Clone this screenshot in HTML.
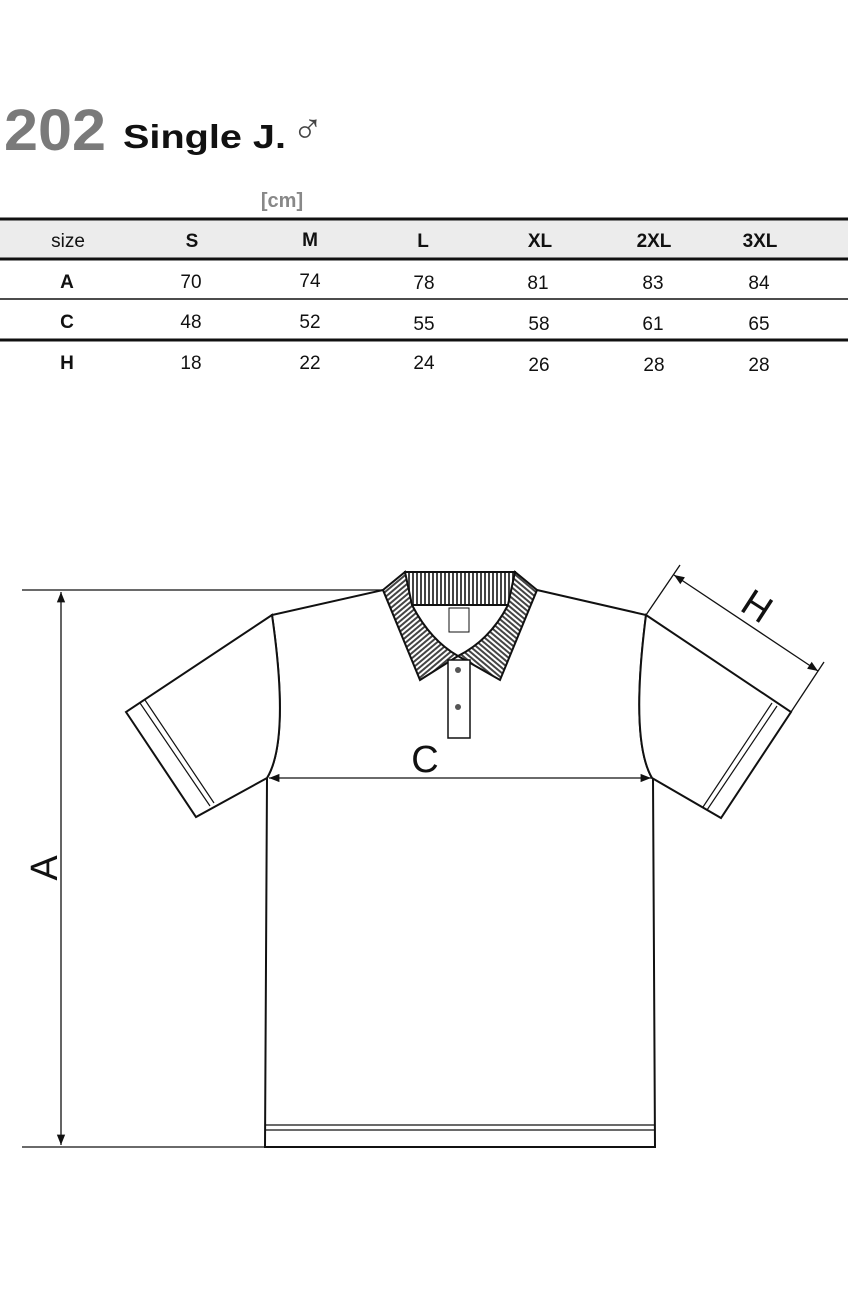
<!DOCTYPE html>
<html><head><meta charset="utf-8"><style>
html,body{margin:0;padding:0;background:#fff;}
body{width:855px;height:1290px;position:relative;overflow:hidden;font-family:"Liberation Sans",sans-serif;}
</style></head><body>
<svg width="855" height="1290" viewBox="0 0 855 1290" xmlns="http://www.w3.org/2000/svg" style="position:absolute;left:0;top:0">
<defs>
<pattern id="vs" width="4" height="4" patternUnits="userSpaceOnUse"><rect width="4" height="4" fill="#fff"/><rect width="2" height="4" fill="#444"/></pattern>
<pattern id="ds" width="4" height="4" patternUnits="userSpaceOnUse" patternTransform="rotate(-40)"><rect width="4" height="4" fill="#fff"/><rect width="4" height="2" fill="#444"/></pattern>
<pattern id="ds2" width="4" height="4" patternUnits="userSpaceOnUse" patternTransform="rotate(40)"><rect width="4" height="4" fill="#fff"/><rect width="4" height="2" fill="#444"/></pattern>
<marker id="ar" viewBox="0 0 10 10" refX="10" refY="5" markerWidth="8" markerHeight="8" orient="auto-start-reverse"><path d="M0,1 L10,5 L0,9 z" fill="#111"/></marker>
</defs>
<text x="4" y="150" font-size="58" font-weight="bold" fill="#7a7a7a" textLength="102" lengthAdjust="spacingAndGlyphs">202</text>
<text x="123" y="148" font-size="33" font-weight="bold" fill="#111" textLength="163" lengthAdjust="spacingAndGlyphs">Single J.</text>
<text x="292" y="143" font-size="42" fill="#444">♂</text>
<text x="282" y="207" font-size="20" font-weight="bold" fill="#888" text-anchor="middle">[cm]</text>
<rect x="0" y="220" width="848" height="38" fill="#ececec"/>
<line x1="0" y1="219" x2="848" y2="219" stroke="#111" stroke-width="3"/>
<line x1="0" y1="259" x2="848" y2="259" stroke="#111" stroke-width="3"/>
<line x1="0" y1="299" x2="848" y2="299" stroke="#111" stroke-width="1.5"/>
<line x1="0" y1="340" x2="848" y2="340" stroke="#111" stroke-width="3"/>
<g font-size="19" fill="#111" text-anchor="middle">
<text x="68" y="247">size</text>
<g font-weight="bold"><text x="192" y="247">S</text><text x="310" y="246">M</text><text x="423" y="247">L</text><text x="540" y="247">XL</text><text x="654" y="247">2XL</text><text x="760" y="247">3XL</text>
<text x="67" y="288">A</text><text x="67" y="328">C</text><text x="67" y="369">H</text></g>
<text x="191" y="288">70</text><text x="310" y="287">74</text><text x="424" y="289">78</text><text x="538" y="289">81</text><text x="653" y="289">83</text><text x="759" y="289">84</text>
<text x="191" y="328">48</text><text x="310" y="328">52</text><text x="424" y="330">55</text><text x="539" y="330">58</text><text x="653" y="330">61</text><text x="759" y="330">65</text>
<text x="191" y="369">18</text><text x="310" y="369">22</text><text x="424" y="369">24</text><text x="539" y="371">26</text><text x="654" y="371">28</text><text x="759" y="371">28</text>
</g>
<g stroke="#111" fill="none" stroke-width="2">
<path d="M267,778 L265,1147 L655,1147 L653,778" fill="#fff"/>
<line x1="265" y1="1125" x2="655" y2="1125" stroke-width="1.2"/>
<line x1="265" y1="1130" x2="655" y2="1130" stroke-width="1.2"/>
<path d="M383,590 L272,615 Q290,740 267,778 M537,590 L646,615 Q630,740 652,778"/>
<path d="M272,615 L126,712 L196,817 L267,778 Q290,740 272,615 Z" fill="#fff"/>
<line x1="140" y1="703" x2="210" y2="806" stroke-width="1.2"/>
<line x1="145" y1="700" x2="214" y2="803" stroke-width="1.2"/>
<path d="M646,615 L791,712 L721,818 L652,778 Q630,740 646,615 Z" fill="#fff"/>
<line x1="777" y1="706" x2="707" y2="810" stroke-width="1.2"/>
<line x1="772" y1="703" x2="703" y2="807" stroke-width="1.2"/>
<path d="M405,572 L515,572 L515,605 L405,605 Z" fill="url(#vs)"/>
<path d="M383,590 L405,572 L412,605 Q430,640 458,656 L420,680 Z" fill="url(#ds)"/>
<path d="M537,590 L515,572 L508,605 Q490,640 458,656 L500,680 Z" fill="url(#ds2)"/>
<rect x="448" y="660" width="22" height="78" fill="#fff" stroke-width="1.5"/>
<rect x="449" y="608" width="20" height="24" stroke-width="1"/>
</g>
<circle cx="458" cy="670" r="3" fill="#555"/><circle cx="458" cy="707" r="3" fill="#555"/>
<g stroke="#111" stroke-width="1.3" fill="none">
<line x1="22" y1="590" x2="383" y2="590"/>
<line x1="22" y1="1147" x2="265" y2="1147"/>
<line x1="61" y1="592" x2="61" y2="1145" marker-start="url(#ar)" marker-end="url(#ar)"/>
<line x1="269" y1="778" x2="651" y2="778" marker-start="url(#ar)" marker-end="url(#ar)"/>
<line x1="646" y1="615" x2="680" y2="565"/>
<line x1="791" y1="712" x2="824" y2="662"/>
<line x1="674" y1="575" x2="818" y2="671" marker-start="url(#ar)" marker-end="url(#ar)"/>
</g>
<text x="425" y="772" font-size="38" text-anchor="middle" fill="#111">C</text>
<text transform="translate(57,868) rotate(-90)" font-size="38" text-anchor="middle" fill="#111">A</text>
<text transform="translate(750,617) rotate(33)" font-size="38" text-anchor="middle" fill="#111">H</text>
</svg>
</body></html>
